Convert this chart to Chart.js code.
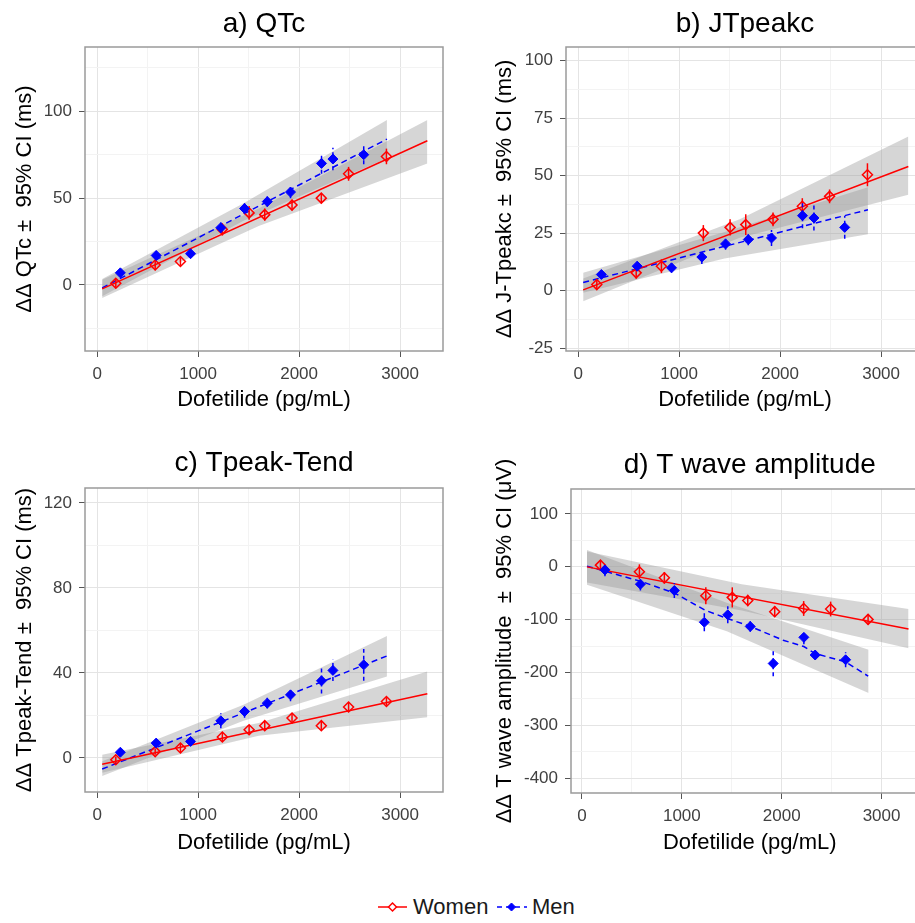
<!DOCTYPE html>
<html lang="en">
	<head>
		<meta charset="utf-8">
		<title>Dofetilide concentration - ECG response</title>
		<script src="https://cdnjs.cloudflare.com/ajax/libs/Chart.js/4.4.1/chart.umd.min.js"></script>
		<style>
			html, body { margin: 0; width: 915px; height: 923px; overflow: hidden; background: #fff; position: relative; }
			canvas { position: absolute; }
			.key { position: absolute; font: 22px "Liberation Sans", Arial, sans-serif; color: #1a1a1a; line-height: 26px; }
		</style>
	</head>
	<body>
		<canvas id="qtc" width="455" height="420" style="left:0;top:0"></canvas>
		<canvas id="jt" width="480" height="420" style="left:455px;top:0"></canvas>
		<canvas id="tpte" width="455" height="440" style="left:0;top:430px"></canvas>
		<canvas id="twa" width="480" height="440" style="left:455px;top:430px"></canvas>

		<svg class="key" style="left:378px;top:900px" width="30" height="14"><line x1="0" y1="7" x2="29" y2="7" stroke="red" stroke-width="1.5"/><path d="M14.5 3 L18.5 7 L14.5 11 L10.5 7 Z" fill="#fff" stroke="red" stroke-width="1.5"/></svg>
		<span class="key" style="left:413px;top:894px">Women</span>
		<svg class="key" style="left:497px;top:900px" width="30" height="14"><line x1="0" y1="7" x2="30" y2="7" stroke="blue" stroke-width="1.5" stroke-dasharray="5 4"/><path d="M14.5 3 L18.5 7 L14.5 11 L10.5 7 Z" fill="blue" stroke="blue" stroke-width="1"/></svg>
		<span class="key" style="left:532px;top:894px">Men</span>

		<script>
			Chart.defaults.font.family = "'Liberation Sans', Arial, sans-serif"

			// dofetilide concentration of each time point (pg/mL)
			const concWomen = [185, 575, 825, 1240, 1505, 1660, 1930, 2220, 2490, 2865]
			const concMen = [230, 585, 925, 1225, 1460, 1685, 1915, 2222, 2335, 2640]
			const xMajor = [0, 1000, 2000, 3000]
			const xMinor = [500, 1500, 2500]

			// model lines and bands are read at these concentrations
			const fitWomenX = [50, 3270]
			const fitMenX = [50, 2870]
			const bandWomenX = [50, 1600, 3270]
			const bandMenX = [50, 1450, 2870]

			// a) QTc
			const qtcWomen = [1, 11.5, 13.5, 32, 41.5, 40.5, 46, 50, 64, 74]
			const qtcWomenErr = [2.5, 3, 2.5, 3.5, 4, 3.5, 3, 3, 4, 4.5]
			const qtcMen = [7, 17, 18, 33, 44, 48, 53.5, 70, 72.5, 75]
			const qtcMenErr = [2, 2.5, 2.5, 3, 3, 3, 3.5, 6, 6.5, 5.5]
			const qtcFitWomen = [-2.2, 83]
			const qtcFitMen = [-1.7, 84]
			const qtcBandWomenLo = [-7.5, 34, 70]
			const qtcBandWomenHi = [3, 44, 95]
			const qtcBandMenLo = [-6.5, 37, 73]
			const qtcBandMenHi = [3.5, 47, 95]
			const qtcMajor = [0, 50, 100]
			const qtcMinor = [-25, 25, 75, 125]

			// b) JTpeakc
			const jtWomen = [2.6, 7.7, 10.6, 25, 27.5, 28.7, 31, 36.7, 41, 50.4]
			const jtWomenErr = [2, 2.5, 3, 3.5, 3.5, 4.5, 3, 3.5, 3, 5]
			const jtMen = [7, 10.6, 9.9, 14.6, 20.3, 22.2, 22.9, 32.6, 31.6, 27.5]
			const jtMenErr = [2, 2, 2, 3, 2.5, 2.5, 3.5, 5.5, 5.5, 5]
			const jtFitWomen = [0.3, 54]
			const jtFitMen = [3.5, 35.2]
			const jtBandWomenLo = [-4.6, 23, 41.7]
			const jtBandWomenHi = [5.2, 31, 67]
			const jtBandMenLo = [-1, 14, 24.5]
			const jtBandMenHi = [7.7, 25.5, 45]
			const jtMajor = [-25, 0, 25, 50, 75, 100]
			const jtMinor = [-12.5, 12.5, 37.5, 62.5, 87.5]

			// c) Tpeak-Tend
			const tpteWomen = [-0.8, 3, 4.7, 9.9, 13.3, 15.2, 18.8, 15.2, 24, 26.6]
			const tpteWomenErr = [1.5, 1.5, 2, 2, 2, 2, 2, 2, 2, 2]
			const tpteMen = [2.7, 7, 7.8, 17.5, 21.9, 25.8, 29.7, 36.3, 41.2, 43.8]
			const tpteMenErr = [1.5, 2, 2, 3.5, 3, 2.5, 3, 6, 5, 7.5]
			const tpteFitWomen = [-2.9, 30.2]
			const tpteFitMen = [-5.2, 48]
			const tpteBandWomenLo = [-7, 10.5, 19.2]
			const tpteBandWomenHi = [1.5, 16.5, 40.7]
			const tpteBandMenLo = [-8.5, 17.5, 38.3]
			const tpteBandMenHi = [-1.5, 25, 57.4]
			const tpteMajor = [0, 40, 80, 120]
			const tpteMinor = [20, 60, 100]

			// d) T wave amplitude
			const twaWomen = [3, -9.5, -21, -55, -58, -64, -85, -79, -80, -99.6]
			const twaWomenErr = [9, 14, 11, 16, 19, 11, 10, 14, 14, 10]
			const twaMen = [-6, -33, -45, -105, -91, -113, -183, -133.6, -167, -176]
			const twaMenErr = [12, 12, 14, 17, 16, 10, 24, 13, 6, 14]
			const twaFitWomen = [-0.3, -117.6]
			const twaFitMenX = [50, 595, 929, 1230, 1457, 1687, 2015, 2222, 2332, 2640, 2866]
			const twaFitMen = [1, -28, -50, -82, -98, -113, -139, -151, -164, -180, -207]
			const twaBandWomenLo = [-30, -83, -154]
			const twaBandWomenHi = [29, -33, -80]
			const twaBandMenLo = [-34, -122, -239]
			const twaBandMenHi = [31.5, -68, -157]
			const twaMajor = [-400, -300, -200, -100, 0, 100]
			const twaMinor = [-350, -250, -150, -50, 50]

			const red = "red"
			const blue = "blue"
			const bandFill = "rgba(153, 153, 153, 0.4)"
			const none = "rgba(0, 0, 0, 0)"

			const pts = (xs, ys) => xs.map((x, i) => ({ x: x, y: ys[i] }))

			// panel border on top of the bands
			const frame = {
				id: "frame",
				afterDatasetsDraw(chart) {
					const a = chart.chartArea, ctx = chart.ctx
					ctx.save()
					ctx.strokeStyle = "#9a9a9a"
					ctx.lineWidth = 1.5
					ctx.strokeRect(a.left, a.top, a.right - a.left, a.bottom - a.top)
					ctx.restore()
				}
			}

			// vertical 95% CI bars under each point
			const errorBars = {
				id: "errorBars",
				beforeDatasetDraw(chart, args) {
					const ds = chart.data.datasets[args.index]
					if (!ds.errors) return
					const x = chart.scales.x, y = chart.scales.y, ctx = chart.ctx
					ctx.save()
					ctx.strokeStyle = ds.borderColor
					ctx.lineWidth = 1.5
					ctx.setLineDash(ds.errorDash || [])
					ds.data.forEach((p, i) => {
						const px = x.getPixelForValue(p.x)
						ctx.beginPath()
						ctx.moveTo(px, y.getPixelForValue(p.y - ds.errors[i]))
						ctx.lineTo(px, y.getPixelForValue(p.y + ds.errors[i]))
						ctx.stroke()
					})
					ctx.restore()
				}
			}

			// rotated y title, drawn by hand so long titles are not squeezed
			const yTitle = {
				id: "yTitle",
				afterDraw(chart, args, opts) {
					const a = chart.chartArea, ctx = chart.ctx
					ctx.save()
					ctx.translate(opts.x, (a.top + a.bottom) / 2)
					ctx.rotate(-Math.PI / 2)
					ctx.font = "22px 'Liberation Sans', Arial, sans-serif"
					ctx.fillStyle = "#000"
					ctx.textAlign = "center"
					ctx.textBaseline = "middle"
					ctx.fillText(opts.text, 0, 0)
					ctx.restore()
				}
			}

			function axis(min, max, majors, minors, size, title, titlePad) {
				return {
					type: "linear",
					min: min,
					max: max,
					afterBuildTicks: s => {
						s.ticks = majors.map(v => ({ value: v }))
							.concat(minors.map(v => ({ value: v, minor: true })))
							.sort((a, b) => a.value - b.value)
					},
					afterFit: s => {
						if (s.isHorizontal()) s.height = size
						else s.width = size
					},
					border: { display: false },
					grid: {
						color: c => c.tick && c.tick.minor ? "#f3f3f3" : "#e4e4e4",
						tickColor: c => c.tick && c.tick.minor ? none : "#555",
						tickLength: 6
					},
					ticks: {
						autoSkip: false,
						maxRotation: 0,
						padding: 7,
						color: "#404040",
						font: { size: 17 },
						callback: v => majors.includes(v) ? String(v) : ""
					},
					title: {
						display: !!title,
						text: title,
						color: "#000",
						font: { size: 22 },
						padding: { top: 0, bottom: titlePad }
					}
				}
			}

			function panel(id, p) {
				const datasets = [
					{ type: "line", showLine: true, data: pts(bandWomenX, p.bandWHi), borderColor: none, borderWidth: 0, pointRadius: 0, fill: false, order: 3 },
					{ type: "line", showLine: true, data: pts(bandWomenX, p.bandWLo), borderColor: none, borderWidth: 0, pointRadius: 0, fill: "-1", backgroundColor: bandFill, order: 3 },
					{ type: "line", showLine: true, data: pts(bandMenX, p.bandMHi), borderColor: none, borderWidth: 0, pointRadius: 0, fill: false, order: 3 },
					{ type: "line", showLine: true, data: pts(bandMenX, p.bandMLo), borderColor: none, borderWidth: 0, pointRadius: 0, fill: "-1", backgroundColor: bandFill, order: 3 },
					{ type: "line", showLine: true, data: pts(fitWomenX, p.fitW), borderColor: red, borderWidth: 1.5, pointRadius: 0, fill: false, order: 2 },
					{ type: "line", showLine: true, data: pts(p.fitMX || fitMenX, p.fitM), borderColor: blue, borderWidth: 1.5, borderDash: [6, 4], pointRadius: 0, fill: false, order: 2 },
					{ type: "scatter", data: pts(concWomen, p.women), errors: p.womenErr, pointStyle: "rectRot", pointRadius: 5, borderWidth: 1.5, borderColor: red, backgroundColor: none, order: 1 },
					{ type: "scatter", data: pts(concMen, p.men), errors: p.menErr, errorDash: [4, 3], pointStyle: "rectRot", pointRadius: 5, borderWidth: 1, borderColor: blue, backgroundColor: blue, order: 0 }
				]
				new Chart(document.getElementById(id), {
					type: "scatter",
					data: { datasets: datasets },
					plugins: [errorBars, frame, yTitle],
					options: {
						responsive: false,
						animation: false,
						events: [],
						layout: { padding: p.pad },
						plugins: {
							legend: { display: false },
							tooltip: { enabled: false },
							title: {
								display: true,
								text: p.title,
								fullSize: false,
								color: "#000",
								font: { size: 28, weight: "normal" },
								padding: p.titlePad
							},
							yTitle: { text: p.yTitle, x: p.yTitleX }
						},
						scales: {
							x: axis(p.xMin, p.xMax, xMajor, xMinor, p.xH, "Dofetilide (pg/mL)", p.xTitlePad),
							y: axis(p.yMin, p.yMax, p.yMajor, p.yMinor, p.yW, "", 0)
						}
					}
				})
			}

			panel("qtc", {
				title: "a) QTc", yTitle: "ΔΔ QTc ±  95% CI (ms)", yTitleX: 25,
				women: qtcWomen, womenErr: qtcWomenErr, men: qtcMen, menErr: qtcMenErr,
				fitW: qtcFitWomen, fitM: qtcFitMen,
				bandWLo: qtcBandWomenLo, bandWHi: qtcBandWomenHi, bandMLo: qtcBandMenLo, bandMHi: qtcBandMenHi,
				xMin: -120, xMax: 3425, yMin: -38, yMax: 137, yMajor: qtcMajor, yMinor: qtcMinor,
				pad: { left: 0, right: 12, top: 0, bottom: 0 }, titlePad: { top: 7.2, bottom: 6.2 },
				yW: 85, xH: 69, xTitlePad: 6.8
			})

			panel("jt", {
				title: "b) JTpeakc", yTitle: "ΔΔ J-Tpeakc ±  95% CI (ms)", yTitleX: 50,
				women: jtWomen, womenErr: jtWomenErr, men: jtMen, menErr: jtMenErr,
				fitW: jtFitWomen, fitM: jtFitMen,
				bandWLo: jtBandWomenLo, bandWHi: jtBandWomenHi, bandMLo: jtBandMenLo, bandMHi: jtBandMenHi,
				xMin: -120, xMax: 3425, yMin: -26.3, yMax: 106, yMajor: jtMajor, yMinor: jtMinor,
				pad: { left: 0, right: 11, top: 0, bottom: 0 }, titlePad: { top: 7.2, bottom: 6.2 },
				yW: 111, xH: 69, xTitlePad: 6.8
			})

			panel("tpte", {
				title: "c) Tpeak-Tend", yTitle: "ΔΔ Tpeak-Tend ±  95% CI (ms)", yTitleX: 25,
				women: tpteWomen, womenErr: tpteWomenErr, men: tpteMen, menErr: tpteMenErr,
				fitW: tpteFitWomen, fitM: tpteFitMen,
				bandWLo: tpteBandWomenLo, bandWHi: tpteBandWomenHi, bandMLo: tpteBandMenLo, bandMHi: tpteBandMenHi,
				xMin: -120, xMax: 3425, yMin: -16, yMax: 127, yMajor: tpteMajor, yMinor: tpteMinor,
				pad: { left: 0, right: 12, top: 0, bottom: 0 }, titlePad: { top: 16.2, bottom: 8.2 },
				yW: 85, xH: 78, xTitlePad: 13.8
			})

			panel("twa", {
				title: "d) T wave amplitude", yTitle: "ΔΔ T wave amplitude  ±  95% CI (μV)", yTitleX: 50,
				women: twaWomen, womenErr: twaWomenErr, men: twaMen, menErr: twaMenErr,
				fitW: twaFitWomen, fitM: twaFitMen, fitMX: twaFitMenX,
				bandWLo: twaBandWomenLo, bandWHi: twaBandWomenHi, bandMLo: twaBandMenLo, bandMHi: twaBandMenHi,
				xMin: -110, xMax: 3470, yMin: -428, yMax: 147, yMajor: twaMajor, yMinor: twaMinor,
				pad: { left: 0, right: 6, top: 0, bottom: 0 }, titlePad: { top: 18.2, bottom: 7.2 },
				yW: 116, xH: 77, xTitlePad: 13.8
			})
		</script>
	</body>
</html>
